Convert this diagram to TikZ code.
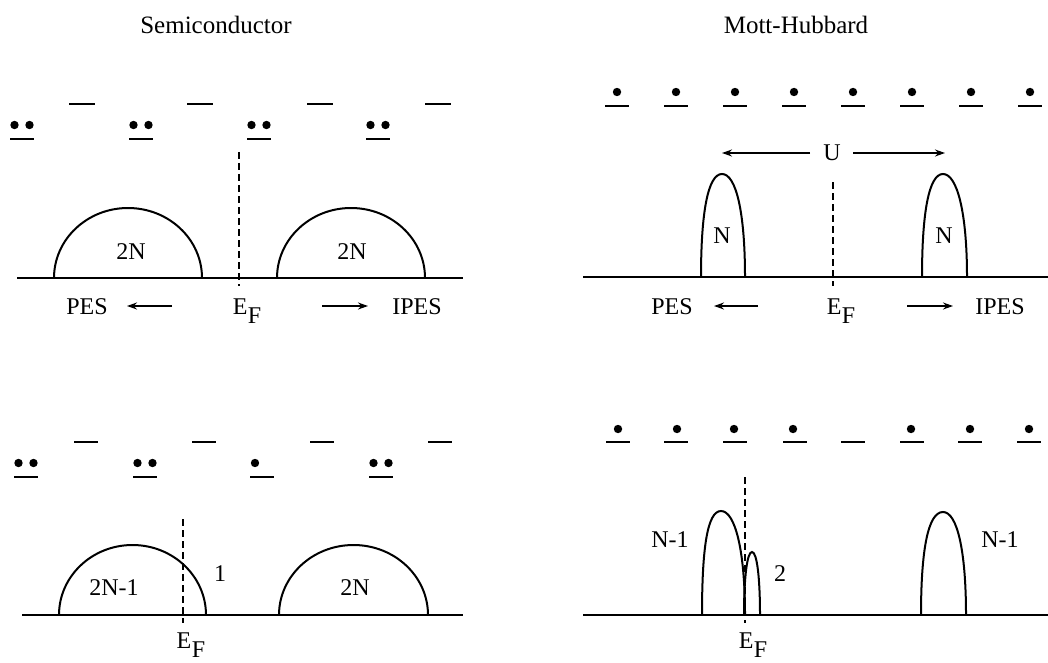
\documentclass[tikz,border=0pt]{standalone}
\usepackage{fontspec}
\setmainfont{Liberation Serif}
\usetikzlibrary{arrows.meta}
\newcommand{\EFlabel}{E\kern0.5pt\raisebox{-9pt}{F}}
\tikzset{
  axisline/.style={line width=1.8pt},
  curve/.style={line width=2pt},
  level/.style={line width=2pt},
  fermi/.style={line width=1.8pt, dash pattern=on 7pt off 4pt},
  elec/.style={fill=black, draw=none},
  lbl/.style={font=\fontsize{24}{26}\selectfont, inner sep=0pt},
  ttl/.style={font=\fontsize{25}{28}\selectfont, inner sep=0pt},
  farrow/.style={line width=1.6pt, -{Stealth[length=10pt,width=7pt]}},
}
\begin{document}
\begin{tikzpicture}[x=1pt,y=-1pt]
\useasboundingbox (0,0) rectangle (1048,663);
% titles
\node[ttl] (t1) at (216,25) {Semiconductor};
\node[ttl] (t2) at (796,25) {Mott-Hubbard};

% ---------- top-left: semiconductor ----------
\foreach \x in {82,200,320,438} \draw[level] (\x-13,104) -- (\x+13,104);
\foreach \x in {22,141,259,378} {
  \draw[level] (\x-12,139) -- (\x+12,139);
  \fill[elec] (\x-7.5,125) circle (4.2);
  \fill[elec] (\x+7.5,125) circle (4.2);
}
\draw[axisline] (17,278) -- (463,278);
\draw[curve] (54,278) arc[start angle=180, end angle=360, x radius=74, y radius=70];
\draw[curve] (277,278) arc[start angle=180, end angle=360, x radius=74, y radius=70];
\draw[fermi] (239,152) -- (239,286);
\node[lbl] (n2a) at (131,252) {2N};
\node[lbl] (n2b) at (352,252) {2N};
\node[lbl] (pesA) at (87,307) {PES};
\node[lbl] (efA) at (247,311) {\EFlabel};
\node[lbl] (ipesA) at (417,307) {IPES};
\coordinate (pa1) at (172,306); \coordinate (pa2) at (127,306);
\coordinate (qa1) at (322,306); \coordinate (qa2) at (368,306);
\draw[farrow] (pa1) -- (pa2);
\draw[farrow] (qa1) -- (qa2);

% ---------- top-right: Mott-Hubbard ----------
\foreach \x in {617,676,735,794,853,912,971,1030} {
  \draw[level] (\x-12,106) -- (\x+12,106);
  \fill[elec] (\x,92) circle (4.2);
}
\node[lbl] (U) at (832,153) {U};
\coordinate (u1) at (810,153); \coordinate (u2) at (722,153);
\coordinate (u3) at (853,153); \coordinate (u4) at (945,153);
\draw[farrow] (u1) -- (u2);
\draw[farrow] (u3) -- (u4);
\draw[axisline] (583,277) -- (1048,277);
\draw[curve] (701,277) .. controls (701,212) and (708,174) .. (722,174) .. controls (736,174) and (745,212) .. (745,277);
\draw[curve] (922,277) .. controls (922,212) and (929,174) .. (943,174) .. controls (957,174) and (967,212) .. (967,277);
\draw[fermi] (833,182) -- (833,286);
\node[lbl] (nA) at (722,236) {N};
\node[lbl] (nB) at (944,236) {N};
\node[lbl] (pesB) at (672,307) {PES};
\node[lbl] (efB) at (841,311) {\EFlabel};
\node[lbl] (ipesB) at (1000,307) {IPES};
\coordinate (pb1) at (758,306); \coordinate (pb2) at (714,306);
\coordinate (qb1) at (907,306); \coordinate (qb2) at (953,306);
\draw[farrow] (pb1) -- (pb2);
\draw[farrow] (qb1) -- (qb2);

% ---------- bottom-left: doped semiconductor ----------
\foreach \x in {86,204,322,440} \draw[level] (\x-12,442) -- (\x+12,442);
\foreach \x in {26,145,381} {
  \draw[level] (\x-12,477) -- (\x+12,477);
  \fill[elec] (\x-7.5,463) circle (4.2);
  \fill[elec] (\x+7.5,463) circle (4.2);
}
\draw[level] (250,477) -- (274,477);
\fill[elec] (255,463) circle (4.2);
\draw[axisline] (22,615) -- (463,615);
\draw[curve] (59,615) arc[start angle=180, end angle=360, x radius=73.5, y radius=70];
\draw[curve] (279,615) arc[start angle=180, end angle=360, x radius=74.5, y radius=70];
\draw[fermi] (183,519) -- (183,623);
\node[lbl] (n2c) at (114,588) {2N-1};
\node[lbl] (n2d) at (355,588) {2N};
\node[lbl] (one) at (220,574) {1};
\node[lbl] (efC) at (191,645) {\EFlabel};

% ---------- bottom-right: doped Mott-Hubbard ----------
\foreach \x in {618,676,735,795,853,912,970,1029} \draw[level] (\x-12,442) -- (\x+12,442);
\foreach \x in {618,677,734,793,911,970,1029} \fill[elec] (\x,429) circle (4.2);
\draw[axisline] (583,615) -- (1048,615);
\draw[curve] (702,615) .. controls (702,550) and (707,511) .. (721,511) .. controls (735,511) and (745,550) .. (745,615);
\draw[curve] (744,615) .. controls (744,578) and (747,552) .. (752,552) .. controls (757,552) and (760,578) .. (760,615);
\draw[curve] (921,615) .. controls (921,550) and (928,512) .. (943,512) .. controls (957,512) and (966,550) .. (966,615);
\draw[fermi] (745,477) -- (745,623);
\node[lbl] (nm1a) at (670,540) {N-1};
\node[lbl] (nm1b) at (1000,540) {N-1};
\node[lbl] (two) at (780,574) {2};
\node[lbl] (efD) at (753,645) {\EFlabel};
\end{tikzpicture}
\end{document}
